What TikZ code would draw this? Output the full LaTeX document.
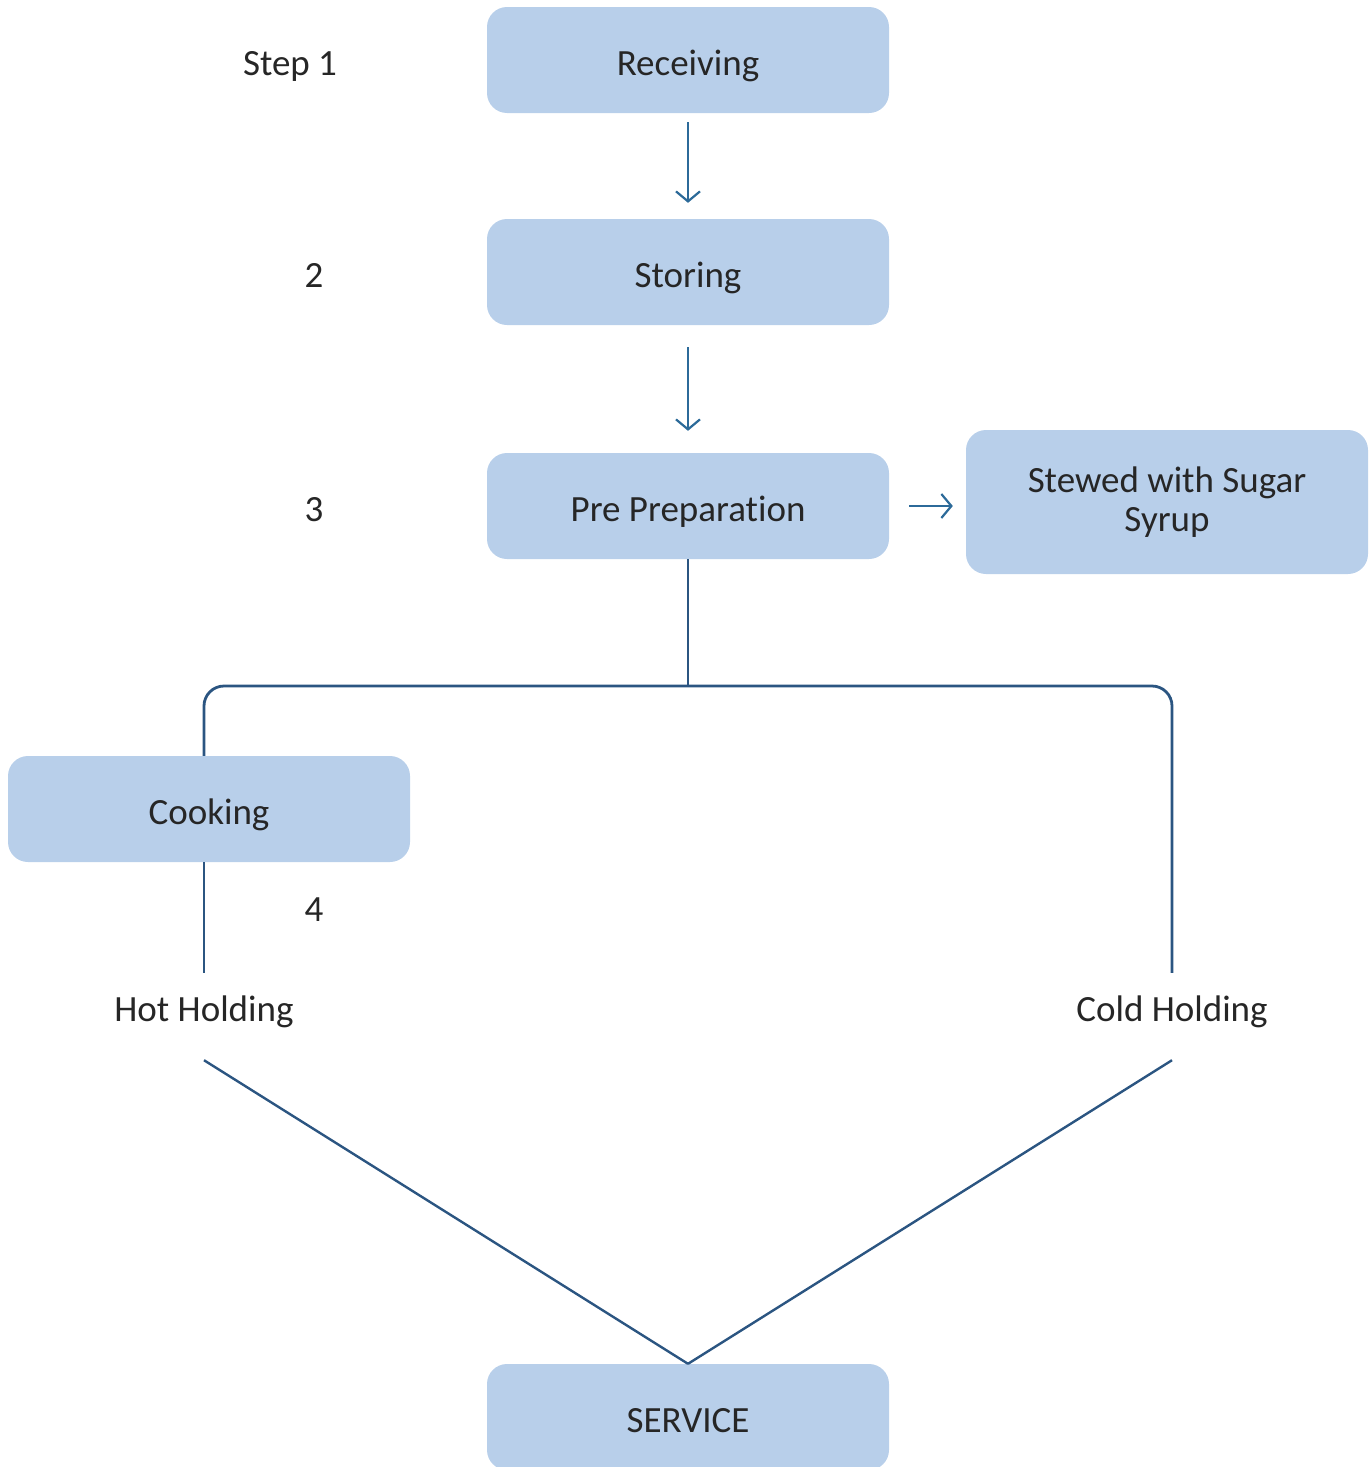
\documentclass[tikz,border=0pt]{standalone}
\usepackage{fontspec}
\setmainfont[Ligatures=NoCommon]{Carlito}
\usetikzlibrary{arrows.meta}
\definecolor{boxfill}{HTML}{B8CFEA}
\definecolor{txt}{HTML}{262626}
\definecolor{arrowblue}{HTML}{2C6A99}
\definecolor{linkblue}{HTML}{2B5581}
\begin{document}
\begin{tikzpicture}[x=1pt,y=-1pt,
  every node/.style={text=txt,font=\fontsize{37}{39}\selectfont},
  stagebox/.style={fill=boxfill,rounded corners=20pt,minimum width=402pt,minimum height=106pt,inner sep=0pt,align=center},
  oneline/.style={stagebox,text height=30pt,text depth=0pt},
  steplabel/.style={inner sep=0pt,text height=24pt,text depth=0pt},
  holdlabel/.style={inner sep=0pt,minimum height=72pt,text height=24pt,text depth=0pt},
  flow/.style={draw=arrowblue,line width=2.2pt,-{Straight Barb[length=10pt,width=24pt,line width=2.2pt]}},
  link/.style={draw=linkblue,line width=2.8pt}]
  \useasboundingbox (0,0) rectangle (1368,1467);

  % process stages
  \node[oneline] (recv) at (688,60) {Receiving};
  \node[oneline] (store) at (688,272) {Storing};
  \node[oneline] (prep) at (688,506) {Pre Preparation};
  \node[stagebox,minimum height=144pt] (stew) at (1167,502) {Stewed with Sugar\\Syrup};
  \node[oneline] (cook) at (209,809) {Cooking};
  \node[oneline] (serve) at (688,1417) {SERVICE};

  % step numbers
  \node[steplabel] (s1) at (290,63) {Step 1};
  \node[steplabel] (s2) at (314,275) {2};
  \node[steplabel] (s3) at (314,509) {3};
  \node[steplabel] (s4) at (314,909) {4};

  % holding stages
  \node[holdlabel] (hot) at (204,1009) {Hot Holding};
  \node[holdlabel] (cold) at (1172,1009) {Cold Holding};

  % straight flow arrows
  \draw[flow,shorten <=9pt,shorten >=16pt] (recv) -- (store);
  \draw[flow,shorten <=22pt,shorten >=22pt] (store) -- (prep);
  \draw[flow,shorten <=20pt,shorten >=13pt] (prep.east) -- (stew.west |- prep.east);

  % branching after preparation
  \coordinate (fork) at (688,686);
  \draw[link] (prep.south) -- (fork);
  \draw[link,rounded corners=20pt] (cook.north -| hot) |- (fork) -| (cold.north);
  \draw[link] (cook.south -| hot) -- (hot.north);

  % both holdings lead to service
  \draw[link,line width=2.4pt] ([yshift=-15pt]hot.south) -- (serve.north);
  \draw[link,line width=2.4pt] ([yshift=-15pt]cold.south) -- (serve.north);
\end{tikzpicture}
\end{document}
